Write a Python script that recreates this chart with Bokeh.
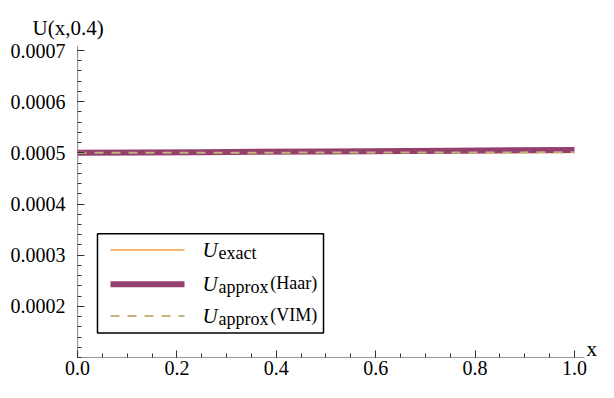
from bokeh.plotting import figure
from bokeh.models import FixedTicker, PrintfTickFormatter, Label, Range1d, Title
from bokeh.embed import file_html
from bokeh.resources import INLINE

# data
x_vals = [0.0, 0.25, 0.5, 0.75, 1.0]
u_exact = [0.0005000, 0.0005002, 0.0005005, 0.0005007, 0.0005010]
u_haar = [0.0005000, 0.0005014, 0.0005028, 0.0005042, 0.0005057]
u_vim = [0.0005000, 0.0005002, 0.0005005, 0.0005008, 0.0005010]

x_ticks = [0.0, 0.2, 0.4, 0.6, 0.8, 1.0]
y_ticks = [0.0002, 0.0003, 0.0004, 0.0005, 0.0006, 0.0007]

FONT = "Liberation Serif"
C_EXACT = "#F9B46E"
C_HAAR = "#953F6F"
C_VIM = "#C3B37E"
AX = "#333333"

p = figure(width=598, height=382, output_backend="svg", toolbar_location=None,
           x_range=Range1d(0, 1.0483), y_range=Range1d(0.0001, 0.0007098),
           min_border_left=77, min_border_right=0, min_border_top=45,
           min_border_bottom=25)
p.grid.visible = False
p.outline_line_color = None
p.background_fill_color = "white"
p.border_fill_color = "white"

p.title = Title(text="U(x,0.4)", text_font=FONT, text_font_size="21px",
                text_font_style="normal", text_color="black", align="left",
                offset=-45, standoff=12)

# axis lines (the frame is wider than the axis)
p.segment(x0=[0.0], y0=[0.0001], x1=[1.0201], y1=[0.0001], line_color=AX, line_width=1.2)
p.segment(x0=[0.0], y0=[0.0001], x1=[0.0], y1=[0.0007098], line_color=AX, line_width=1.2)

# curves
p.line(x_vals, u_exact, line_color=C_EXACT, line_width=2)
p.line(x_vals, u_haar, line_color=C_HAAR, line_width=6)
p.line(x_vals, u_vim, line_color=C_VIM, line_width=2, line_dash="9 8")

# axes
p.xaxis.ticker = FixedTicker(ticks=x_ticks, minor_ticks=[i * 0.05 for i in range(21)])
p.yaxis.ticker = FixedTicker(ticks=y_ticks, minor_ticks=[0.0001 + i * 0.00002 for i in range(31)])
p.xaxis.formatter = PrintfTickFormatter(format="%.1f")
p.yaxis.formatter = PrintfTickFormatter(format="%.4f")
for ax in (p.xaxis, p.yaxis):
    ax.major_label_text_font = FONT
    ax.major_label_text_font_size = "20px"
    ax.major_label_text_color = "black"
    ax.axis_line_color = None
    ax.major_tick_line_color = AX
    ax.minor_tick_line_color = AX
    ax.major_tick_in = 7
    ax.major_tick_out = 0
    ax.minor_tick_in = 4
    ax.minor_tick_out = 0
p.xaxis.major_label_standoff = 3
p.yaxis.major_label_standoff = 12

p.add_layout(Label(x=1.024, y=0.0001, y_offset=9, text="x", text_font=FONT,
                   text_font_size="21px", text_color="black", text_baseline="alphabetic"))

# legend
p.quad(left=[0.0402], right=[0.495], top=[0.000342], bottom=[0.000148],
       fill_color="white", line_color="black", line_width=1.5)
rows = [0.00031, 0.000243, 0.000181]
p.line([0.0664, 0.2153], [rows[0], rows[0]], line_color=C_EXACT, line_width=2)
p.line([0.0664, 0.2153], [rows[1], rows[1]], line_color=C_HAAR, line_width=6)
p.line([0.0664, 0.2153], [rows[2], rows[2]], line_color=C_VIM, line_width=2, line_dash="9 8")

subs = ["exact", "approx", "approx"]
tails = ["", "(Haar)", "(VIM)"]
for r, s, t in zip(rows, subs, tails):
    p.add_layout(Label(x=0.2515, y=r, y_offset=0, text="U", text_font=FONT,
                       text_font_style="italic", text_font_size="21px",
                       text_color="black", text_baseline="alphabetic"))
    p.add_layout(Label(x=0.2837, y=r, y_offset=-3, text=s, text_font=FONT,
                       text_font_size="18px", text_color="black", text_baseline="alphabetic"))
    if t:
        p.add_layout(Label(x=0.388, y=r, y_offset=1, text=t, text_font=FONT,
                           text_font_size="18px", text_color="black", text_baseline="alphabetic"))

open("out.html", "w").write(file_html(p, INLINE))
